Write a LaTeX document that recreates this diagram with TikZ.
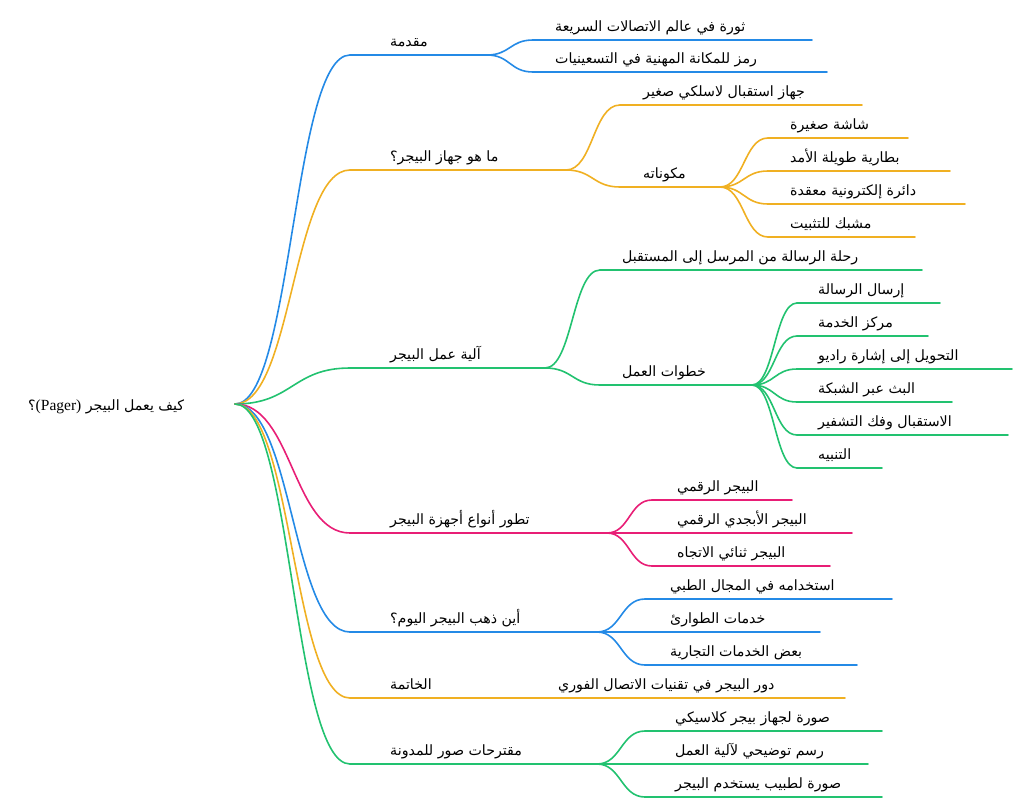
\documentclass[tikz,border=0pt]{standalone}
\usepackage{fontspec}
\setmainfont{Liberation Serif}
\newfontfamily\arabicfont[Script=Arabic]{DejaVu Sans}
\TeXXeTstate=1
\usetikzlibrary{calc}
\definecolor{mmblue}{RGB}{36,138,230}
\definecolor{mmorange}{RGB}{240,176,34}
\definecolor{mmgreen}{RGB}{34,194,112}
\definecolor{mmpink}{RGB}{232,30,118}
\tikzset{
  link/.style={line width=1.6pt, line cap=round},
  lbl/.style={anchor=base west, inner sep=0pt, font=\arabicfont\fontsize{14.2}{17}\selectfont},
}
% name, color, y, start x, end x, text x, text
\newcommand\mmtopic[7]{%
  \coordinate (#1-s) at (#4,#3);
  \coordinate (#1-e) at (#5,#3);
  \node[lbl] (#1) at (#6,#3-9) {#7};
  \draw[link,#2] (#1-s) -- (#1-e);
}
% color, from, to
\newcommand\mmlink[3]{%
  \path ($(#2)!0.5!(#3)$) coordinate (mm);
  \draw[link,#1] (#2) .. controls (mm |- #2) and (mm |- #3) .. (#3);
}
\begin{document}
\begin{tikzpicture}[x=1pt,y=-1pt]
\useasboundingbox (0,0) rectangle (1024,809);
\coordinate (R) at (235,404);
\node[lbl] (root) at (28,410) {\beginR كيف يعمل البيجر \beginL{\rmfamily\fontsize{15.5}{17}\selectfont (Pager)}\endL؟\endR};

% level 1
\mmtopic{A}{mmblue}{55}{350}{487}{390}{\beginR مقدمة\endR}
\mmtopic{B}{mmorange}{170}{350}{566}{390}{\beginR ما هو جهاز البيجر؟\endR}
\mmtopic{C}{mmgreen}{368}{350}{545}{390}{\beginR آلية عمل البيجر\endR}
\mmtopic{D}{mmpink}{533}{350}{607}{390}{\beginR تطور أنواع أجهزة البيجر\endR}
\mmtopic{E}{mmblue}{632}{350}{597}{390}{\beginR أين ذهب البيجر اليوم؟\endR}
\mmtopic{F}{mmorange}{698}{350}{487}{390}{\beginR الخاتمة\endR}
\mmtopic{G}{mmgreen}{764}{350}{597}{390}{\beginR مقترحات صور للمدونة\endR}
\mmlink{mmblue}{R}{A-s}
\mmlink{mmorange}{R}{B-s}
\mmlink{mmgreen}{R}{C-s}
\mmlink{mmpink}{R}{D-s}
\mmlink{mmblue}{R}{E-s}
\mmlink{mmorange}{R}{F-s}
\mmlink{mmgreen}{R}{G-s}

% A children
\mmtopic{A1}{mmblue}{40}{533}{812}{555}{\beginR ثورة في عالم الاتصالات السريعة\endR}
\mmtopic{A2}{mmblue}{72}{533}{827}{555}{\beginR رمز للمكانة المهنية في التسعينيات\endR}
\mmlink{mmblue}{A-e}{A1-s}
\mmlink{mmblue}{A-e}{A2-s}

% B children
\mmtopic{B1}{mmorange}{105}{620}{862}{643}{\beginR جهاز استقبال لاسلكي صغير\endR}
\mmtopic{B2}{mmorange}{187}{620}{720}{643}{\beginR مكوناته\endR}
\mmlink{mmorange}{B-e}{B1-s}
\mmlink{mmorange}{B-e}{B2-s}
\mmtopic{B21}{mmorange}{138}{768}{908}{790}{\beginR شاشة صغيرة\endR}
\mmtopic{B22}{mmorange}{171}{768}{950}{790}{\beginR بطارية طويلة الأمد\endR}
\mmtopic{B23}{mmorange}{204}{768}{965}{790}{\beginR دائرة إلكترونية معقدة\endR}
\mmtopic{B24}{mmorange}{237}{768}{915}{790}{\beginR مشبك للتثبيت\endR}
\mmlink{mmorange}{B2-e}{B21-s}
\mmlink{mmorange}{B2-e}{B22-s}
\mmlink{mmorange}{B2-e}{B23-s}
\mmlink{mmorange}{B2-e}{B24-s}

% C children
\mmtopic{C1}{mmgreen}{270}{600}{922}{622}{\beginR رحلة الرسالة من المرسل إلى المستقبل\endR}
\mmtopic{C2}{mmgreen}{385}{600}{752}{622}{\beginR خطوات العمل\endR}
\mmlink{mmgreen}{C-e}{C1-s}
\mmlink{mmgreen}{C-e}{C2-s}
\mmtopic{C21}{mmgreen}{303}{797}{940}{818}{\beginR إرسال الرسالة\endR}
\mmtopic{C22}{mmgreen}{336}{797}{928}{818}{\beginR مركز الخدمة\endR}
\mmtopic{C23}{mmgreen}{369}{797}{1012}{818}{\beginR التحويل إلى إشارة راديو\endR}
\mmtopic{C24}{mmgreen}{402}{797}{952}{818}{\beginR البث عبر الشبكة\endR}
\mmtopic{C25}{mmgreen}{435}{797}{1008}{818}{\beginR الاستقبال وفك التشفير\endR}
\mmtopic{C26}{mmgreen}{468}{797}{882}{818}{\beginR التنبيه\endR}
\mmlink{mmgreen}{C2-e}{C21-s}
\mmlink{mmgreen}{C2-e}{C22-s}
\mmlink{mmgreen}{C2-e}{C23-s}
\mmlink{mmgreen}{C2-e}{C24-s}
\mmlink{mmgreen}{C2-e}{C25-s}
\mmlink{mmgreen}{C2-e}{C26-s}

% D children
\mmtopic{D1}{mmpink}{500}{652}{792}{677}{\beginR البيجر الرقمي\endR}
\mmtopic{D2}{mmpink}{533}{652}{852}{677}{\beginR البيجر الأبجدي الرقمي\endR}
\mmtopic{D3}{mmpink}{566}{652}{830}{677}{\beginR البيجر ثنائي الاتجاه\endR}
\mmlink{mmpink}{D-e}{D1-s}
\mmlink{mmpink}{D-e}{D2-s}
\mmlink{mmpink}{D-e}{D3-s}

% E children
\mmtopic{E1}{mmblue}{599}{645}{892}{670}{\beginR استخدامه في المجال الطبي\endR}
\mmtopic{E2}{mmblue}{632}{645}{820}{670}{\beginR خدمات الطوارئ\endR}
\mmtopic{E3}{mmblue}{665}{645}{857}{670}{\beginR بعض الخدمات التجارية\endR}
\mmlink{mmblue}{E-e}{E1-s}
\mmlink{mmblue}{E-e}{E2-s}
\mmlink{mmblue}{E-e}{E3-s}

% F child
\mmtopic{F1}{mmorange}{698}{535}{845}{558}{\beginR دور البيجر في تقنيات الاتصال الفوري\endR}
\mmlink{mmorange}{F-e}{F1-s}

% G children
\mmtopic{G1}{mmgreen}{731}{645}{882}{675}{\beginR صورة لجهاز بيجر كلاسيكي\endR}
\mmtopic{G2}{mmgreen}{764}{645}{868}{675}{\beginR رسم توضيحي لآلية العمل\endR}
\mmtopic{G3}{mmgreen}{797}{645}{882}{675}{\beginR صورة لطبيب يستخدم البيجر\endR}
\mmlink{mmgreen}{G-e}{G1-s}
\mmlink{mmgreen}{G-e}{G2-s}
\mmlink{mmgreen}{G-e}{G3-s}
\end{tikzpicture}
\end{document}
